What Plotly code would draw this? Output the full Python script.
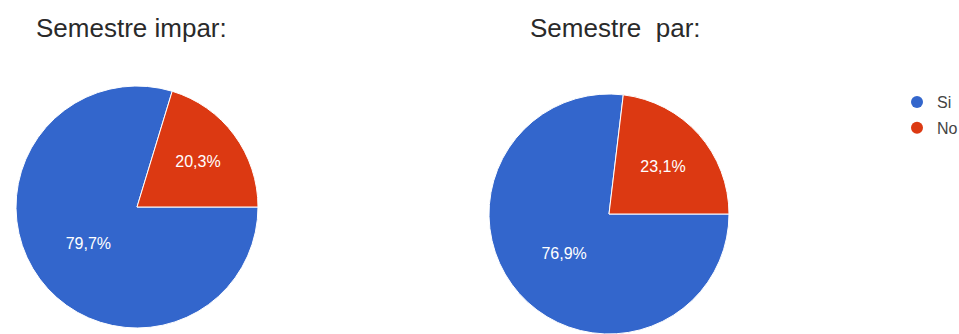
import plotly.graph_objects as go

# Survey answers per semester
categories = ["Si", "No"]
odd_semester = [79.7, 20.3]
even_semester = [76.9, 23.1]
titles = ["Semestre impar:", "Semestre\u00a0 par:"]
colors = ["#3366cc", "#dc3912"]

W, H = 959, 334
FONT = "Liberation Sans, Arial, sans-serif"


def px_x(x):
    return x / W


def px_y(y):
    return (H - y) / H


def pie(values, x0, x1, y0, y1):
    return go.Pie(
        labels=categories,
        values=values,
        sort=False,
        direction="clockwise",
        rotation=90,
        marker=dict(colors=colors, line=dict(color="#ffffff", width=1)),
        textinfo="percent",
        texttemplate="%{percent:.1%}",
        textposition="inside",
        insidetextorientation="horizontal",
        textfont=dict(family=FONT, size=16, color="#ffffff"),
        domain=dict(x=[px_x(x0), px_x(x1)], y=[px_y(y1), px_y(y0)]),
        showlegend=False,
        hoverinfo="label+percent",
    )


fig = go.Figure()
fig.add_trace(pie(odd_semester, 16, 258, 86, 328))
fig.add_trace(pie(even_semester, 489, 729, 94, 334))

# Legend entries drawn as round markers
for name, col in zip(categories, colors):
    fig.add_trace(go.Scatter(
        x=[None], y=[None], mode="markers", name=name,
        legendgroup=name,
        marker=dict(symbol="circle", size=12, color=col),
    ))

title_pos = [(131.5, 27.5), (615.5, 28)]
for text, (tx, ty) in zip(titles, title_pos):
    fig.add_annotation(
        text=text, x=px_x(tx), y=px_y(ty), xref="paper", yref="paper",
        xanchor="center", yanchor="middle", showarrow=False,
        font=dict(family=FONT, size=26, color="#2a2a2a"),
    )

fig.update_layout(
    width=W, height=H,
    margin=dict(l=0, r=0, t=0, b=0, autoexpand=False),
    paper_bgcolor="#ffffff",
    plot_bgcolor="#ffffff",
    separators=",.",
    xaxis=dict(visible=False),
    yaxis=dict(visible=False),
    legend=dict(
        x=px_x(897), y=px_y(85), xanchor="left", yanchor="top",
        font=dict(family=FONT, size=16, color="#444444"),
        tracegroupgap=2, traceorder="grouped",
        bgcolor="rgba(0,0,0,0)",
    ),
)

fig.write_html("out.html")
